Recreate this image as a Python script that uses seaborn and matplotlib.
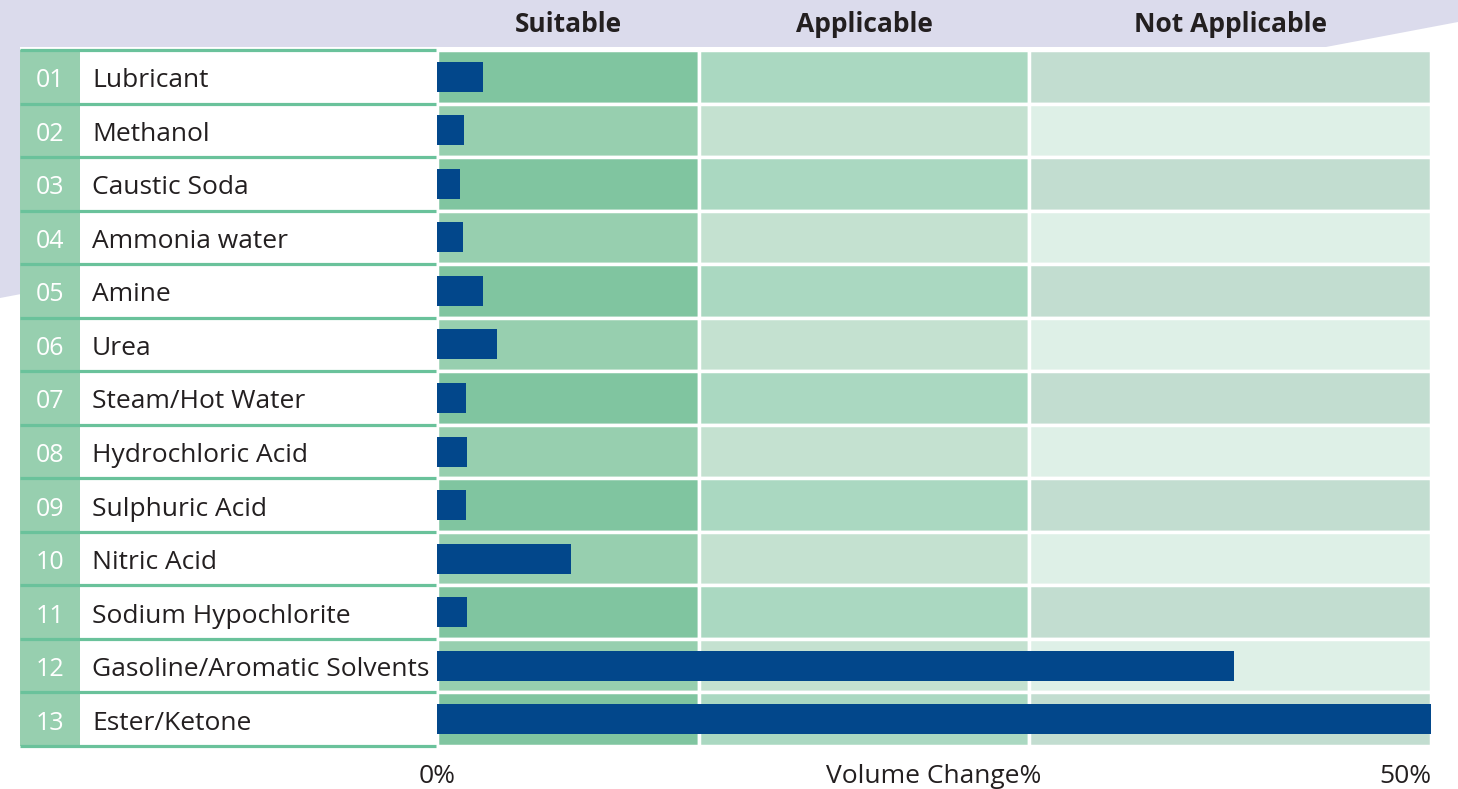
import matplotlib
matplotlib.use('Agg')
import matplotlib.pyplot as plt
from matplotlib.patches import Polygon, Rectangle
from matplotlib.transforms import blended_transform_factory
import seaborn as sns
import pandas as pd
import numpy as np

# data
numbers = ['01', '02', '03', '04', '05', '06', '07', '08', '09', '10', '11', '12', '13']
media = ['Lubricant', 'Methanol', 'Caustic Soda', 'Ammonia water', 'Amine', 'Urea',
         'Steam/Hot Water', 'Hydrochloric Acid', 'Sulphuric Acid', 'Nitric Acid',
         'Sodium Hypochlorite', 'Gasoline/Aromatic Solvents', 'Ester/Ketone']
volume_change = [2.3, 1.34, 1.14, 1.29, 2.3, 3.0, 1.44, 1.49, 1.44, 6.72, 1.49, 40.07, 50.0]
zone_names = ['Suitable', 'Applicable', 'Not Applicable']
zone_edges = [0, 13.2, 29.8, 50]
x_max = 50

W, H = 1458, 789
lavender = '#DBDBEC'
blue = '#02478B'
line_green = '#6AC29B'
num_cell = '#97CFAF'
text_col = '#231F20'
zone_colors_odd = ['#80C5A0', '#AAD8C1', '#C2DDD0']
zone_colors_even = ['#97CFAF', '#C4E1D0', '#DEF0E7']

sns.set_style('white')
plt.rcParams['font.family'] = ['Open Sans', 'DejaVu Sans']

fig = plt.figure(figsize=(W / 100, H / 100), dpi=100)
fig.patch.set_facecolor('white')

# background shapes
fig.add_artist(Polygon([[0, 1], [1, 1], [1, 1 - 22 / H], [0, 1 - 298 / H]],
                       closed=True, transform=fig.transFigure, facecolor=lavender,
                       edgecolor='none', zorder=-2))
fig.add_artist(Rectangle((20 / W, 1 - 748 / H), (1431 - 20) / W, (748 - 47) / H,
                         transform=fig.transFigure, facecolor='white',
                         edgecolor='none', zorder=-1))

top_px, bot_px = 50, 746
ax_b = 1 - bot_px / H
ax_h = (bot_px - top_px) / H
row_px = (bot_px - top_px) / len(media)

ax = fig.add_axes([437 / W, ax_b, (1431 - 437) / W, ax_h])
ax_t = fig.add_axes([20 / W, ax_b, (436 - 20) / W, ax_h])
for a in (ax, ax_t):
    a.set_facecolor('none')
    for s in a.spines.values():
        s.set_visible(False)

rows = np.arange(len(media))

# zone bands
for z in range(3):
    cols = [zone_colors_odd[z] if i % 2 == 0 else zone_colors_even[z] for i in rows]
    ax.barh(rows, zone_edges[z + 1] - zone_edges[z], left=zone_edges[z], height=1.0,
            color=cols, edgecolor='white', linewidth=2.5, zorder=1)

df = pd.DataFrame({'medium': media, 'change': volume_change})
sns.barplot(data=df, x='change', y='medium', orient='h', color=blue, width=0.56,
            saturation=1, ax=ax, zorder=3, edgecolor='none', linewidth=0)

ax.set_xlim(0, x_max)
ax.set_ylim(len(media) - 0.5, -0.5)
ax.set_xticks([])
ax.set_yticks([])
ax.set_xlabel('')
ax.set_ylabel('')

# headers and bottom labels
trans_top = blended_transform_factory(ax.transData, fig.transFigure)
for z, name in enumerate(zone_names):
    ax.text((zone_edges[z] + zone_edges[z + 1]) / 2, 1 - 32 / H, name, transform=trans_top,
            ha='center', va='baseline', fontsize=19, fontweight='bold', color=text_col)
yb = 1 - 783 / H
ax.text(0, yb, '0%', transform=trans_top, ha='center', va='baseline', fontsize=19, color=text_col)
ax.text(x_max / 2, yb, 'Volume Change%', transform=trans_top, ha='center', va='baseline',
        fontsize=19, color=text_col)
ax.text(x_max, yb, '50%', transform=trans_top, ha='right', va='baseline', fontsize=19,
        color=text_col)

# left table
ax_t.set_xlim(0, 1)
ax_t.set_ylim(len(media) - 0.5, -0.5)
ax_t.set_xticks([])
ax_t.set_yticks([])
num_w = 60 / 416
ax_t.barh(rows, num_w, left=0, height=1.0, color=num_cell, edgecolor='none', zorder=1)
for k in range(len(media) + 1):
    ax_t.plot([0, 1], [k - 0.5, k - 0.5], color=line_green, lw=2.3, clip_on=False,
              solid_capstyle='butt', zorder=3)
base_off = 10.5 / row_px
for i in rows:
    ax_t.text(num_w / 2, i + base_off, numbers[i], ha='center', va='baseline', fontsize=18,
              color='white', zorder=4)
    ax_t.text(72 / 416, i + base_off, media[i], ha='left', va='baseline', fontsize=19,
              color=text_col, zorder=4)

fig.savefig('out.png', dpi=100)
